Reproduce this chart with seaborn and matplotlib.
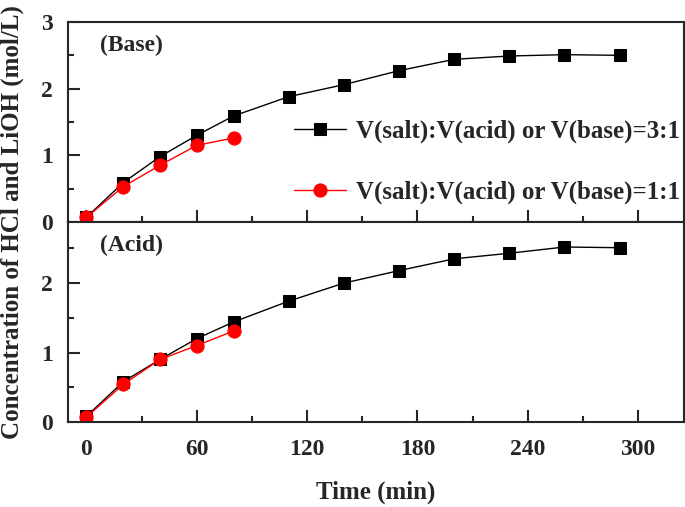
import matplotlib
matplotlib.use('agg')
import matplotlib.pyplot as plt
from matplotlib.ticker import MultipleLocator
import seaborn as sns
import pandas as pd

# Data
time_31 = [0, 20, 40, 60, 80, 110, 140, 170, 200, 230, 260, 290]
time_11 = [0, 20, 40, 60, 80]
base_31 = [0.07, 0.59, 0.98, 1.30, 1.59, 1.88, 2.06, 2.27, 2.44, 2.49, 2.51, 2.50]
base_11 = [0.07, 0.53, 0.85, 1.15, 1.26]
acid_31 = [0.08, 0.58, 0.90, 1.20, 1.44, 1.74, 2.00, 2.18, 2.35, 2.43, 2.52, 2.51]
acid_11 = [0.07, 0.54, 0.90, 1.10, 1.31]
label_31 = "V(salt):V(acid) or V(base)=3:1"
label_11 = "V(salt):V(acid) or V(base)=1:1"

sns.set_style("ticks")
plt.rcParams['font.family'] = ['Liberation Serif', 'DejaVu Serif']
plt.rcParams['font.weight'] = 'bold'
plt.rcParams['axes.labelweight'] = 'bold'
fs = 17
fs_big = 18

fig = plt.figure(figsize=(6.85, 5.07), dpi=100)
ax_top = fig.add_axes([0.0993, 0.5621, 0.8992, 0.3945])
ax_bot = fig.add_axes([0.0993, 0.1677, 0.8992, 0.3944])

panels = [(ax_top, base_31, base_11, "(Base)", 3.0),
          (ax_bot, acid_31, acid_11, "(Acid)", 2.88)]

for ax, v31, v11, name, ytop in panels:
    d31 = pd.DataFrame({"t": time_31, "c": v31})
    d11 = pd.DataFrame({"t": time_11, "c": v11})
    sns.lineplot(data=d31, x="t", y="c", ax=ax, color="black", marker="s",
                 markersize=8.5, markeredgecolor="black", linewidth=1.0, label=label_31)
    sns.lineplot(data=d11, x="t", y="c", ax=ax, color="red", marker="o",
                 markersize=9.5, markeredgecolor="red", linewidth=1.0, label=label_11)
    ax.set_xlim(-10, 325)
    ax.set_ylim(0, ytop)
    ax.xaxis.set_major_locator(MultipleLocator(60))
    ax.xaxis.set_minor_locator(MultipleLocator(30))
    ax.yaxis.set_major_locator(MultipleLocator(1))
    ax.yaxis.set_minor_locator(MultipleLocator(0.5))
    ax.tick_params(which='both', direction='in', top=False, right=False, width=1.5)
    ax.tick_params(which='major', length=8.5, labelsize=fs)
    ax.tick_params(axis='y', which='major', pad=11)
    ax.tick_params(axis='x', which='major', pad=12)
    ax.tick_params(which='minor', length=4.5)
    for s in ax.spines.values():
        s.set_linewidth(1.5)
        s.set_visible(True)
    ax.set_xlabel("")
    ax.set_ylabel("")
    ax.text(0.052, 0.885, name, transform=ax.transAxes, fontsize=fs,
            fontweight='bold', va='center', ha='left')

ax_top.tick_params(labelbottom=False)
ax_top.legend(loc='center right', bbox_to_anchor=(1.01, 0.30), frameon=False,
              fontsize=fs_big, handlelength=2.1, labelspacing=1.5, handletextpad=0.4,
              borderaxespad=0)
ax_bot.get_legend().remove()
ax_bot.set_yticks([0, 1, 2])

fig.text(0.549, 0.03, "Time (min)", ha='center', va='center', fontsize=fs_big, fontweight='bold')
fig.text(0.0175, 0.562, "Concentration of HCl and LiOH (mol/L)", rotation=90,
         ha='center', va='center', fontsize=fs_big, fontweight='bold')

fig.savefig("out.png", dpi=100)
